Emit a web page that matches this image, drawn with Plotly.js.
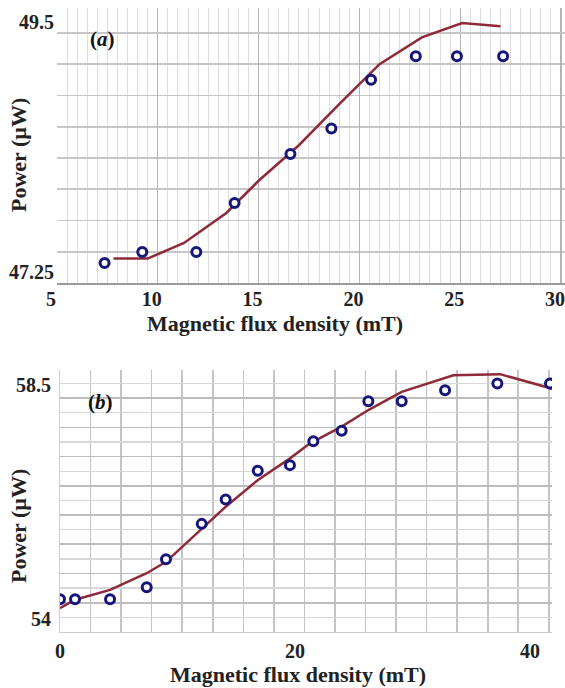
<!DOCTYPE html>
<html>
<head>
<meta charset="utf-8">
<script src="https://cdn.plot.ly/plotly-3.0.1.min.js"></script>
<style>
  html, body { margin: 0; padding: 0; background: #fff; overflow: hidden; }
  #chart { width: 565px; height: 688px; }
</style>
</head>
<body>
<div id="chart"></div>
<script>
// ---------- Panel (a) ----------
const fluxA = [7.36, 9.23, 11.91, 13.81, 16.58, 18.61, 20.58, 22.80, 24.84, 27.13];
const powerA = [47.43, 47.53, 47.53, 47.97, 48.41, 48.64, 49.08, 49.29, 49.29, 49.29];
const fitFluxA = [7.8, 9.5, 11.3, 13.4, 15.0, 17.0, 19.0, 21.0, 23.1, 25.1, 27.0];
const fitPowerA = [47.47, 47.47, 47.61, 47.88, 48.17, 48.49, 48.86, 49.22, 49.46, 49.59, 49.56];
const xTicksA = [5, 10, 15, 20, 25, 30];
const yTicksA = [47.25, 49.5];
const yTickTextA = ['47.25', '49.5'];

// ---------- Panel (b) ----------
const fluxB = [0, 1.28, 4.26, 7.38, 9.02, 12.06, 14.10, 16.83, 19.57, 21.56, 23.97, 26.24, 29.08, 32.77, 37.22, 41.70];
const powerB = [54.63, 54.63, 54.63, 54.86, 55.40, 56.08, 56.55, 57.10, 57.21, 57.67, 57.87, 58.44, 58.44, 58.65, 58.78, 58.78];
const fitFluxB = [0, 1.28, 4.26, 7.38, 9.02, 12.06, 14.10, 16.82, 19.57, 21.28, 23.97, 26.24, 29.08, 33.47, 37.45, 41.9];
const fitPowerB = [54.46, 54.62, 54.81, 55.13, 55.35, 55.99, 56.41, 56.92, 57.34, 57.63, 57.95, 58.27, 58.62, 58.94, 58.96, 58.68];
const xTicksB = [0, 20, 40];
const yTicksB = [54, 54.5625, 55.125, 55.6875, 56.25, 56.8125, 57.375, 57.9375, 58.5];
const yTickTextB = ['54', '', '', '', '', '', '', '', '58.5'];

const xTitle = 'Magnetic flux density (mT)';
const yTitle = 'Power (\u00b5W)';

const lineColor = '#8e2a3a';
const markerColor = '#16167a';
const serif = 'Liberation Serif, Times New Roman, serif';
const tickFont = {family: serif, size: 20, color: '#222', weight: 'bold'};
const titleFont = {family: serif, size: 22, color: '#222', weight: 'bold'};

const W = 565, H = 688;
const px = v => v / W;
const py = v => 1 - v / H;

const markerStyle = {symbol: 'circle', size: 9, color: '#ffffff', line: {color: markerColor, width: 3}};

const traces = [
  {x: fitFluxA, y: fitPowerA, xaxis: 'x', yaxis: 'y', mode: 'lines', line: {color: lineColor, width: 2.5}, hoverinfo: 'skip'},
  {x: fluxA, y: powerA, xaxis: 'x', yaxis: 'y', mode: 'markers', marker: markerStyle},
  {x: fitFluxB, y: fitPowerB, xaxis: 'x2', yaxis: 'y2', mode: 'lines', line: {color: lineColor, width: 2.5}, hoverinfo: 'skip'},
  {x: fluxB, y: powerB, xaxis: 'x2', yaxis: 'y2', mode: 'markers', marker: markerStyle}
];

const ann = (text, x, y, font, extra) => Object.assign({
  text: text, xref: 'paper', yref: 'paper', x: px(x), y: py(y),
  xanchor: 'center', yanchor: 'middle', showarrow: false, font: font
}, extra || {});

const layout = {
  width: W, height: H,
  margin: {l: 0, r: 0, t: 0, b: 0},
  paper_bgcolor: '#fff', plot_bgcolor: '#fff',
  showlegend: false,
  xaxis: {
    domain: [px(57), 1], anchor: 'y',
    range: [5, 30.2],
    tickmode: 'array', tickvals: xTicksA,
    ticks: '', tickfont: tickFont, ticklabelstandoff: -3, ticklabelshift: -6,
    ticklabeloverflow: 'allow',
    showgrid: true, gridcolor: '#b5b5b5', gridwidth: 1.3,
    minor: {dtick: 0.5, tick0: 5, showgrid: true, gridcolor: '#dedede', gridwidth: 1},
    showline: true, linecolor: '#9a9a9a', linewidth: 1.5,
    zeroline: false, fixedrange: true
  },
  yaxis: {
    domain: [py(283), py(8)], anchor: 'x',
    range: [47.25, 49.725],
    tickmode: 'array', tickvals: yTicksA, ticktext: yTickTextA,
    ticks: '', tickfont: tickFont, ticklabelstandoff: 2, ticklabelshift: -11,
    showgrid: true, gridcolor: '#c6c6c6', gridwidth: 1.6,
    minor: {dtick: 0.28125, tick0: 47.25, showgrid: true, gridcolor: '#c6c6c6', gridwidth: 1.6},
    showline: false, zeroline: false, fixedrange: true
  },
  xaxis2: {
    domain: [px(60), px(552)], anchor: 'y2',
    range: [0, 41.87],
    tickmode: 'array', tickvals: xTicksB,
    ticks: '', tickfont: tickFont, ticklabelstandoff: 1,
    showgrid: false,
    minor: {dtick: 2.6, tick0: 0, showgrid: true, gridcolor: '#c4c4c4', gridwidth: 1.6},
    showline: true, linecolor: '#cccccc', linewidth: 1,
    zeroline: false, fixedrange: true
  },
  yaxis2: {
    domain: [py(632), py(370)], anchor: 'x2',
    range: [54, 59.04],
    tickmode: 'array', tickvals: yTicksB, ticktext: yTickTextB,
    ticks: '', tickfont: tickFont, ticklabelstandoff: 4, ticklabelshift: -13,
    showgrid: true, gridcolor: '#bdbdbd', gridwidth: 1.6,
    minor: {dtick: 0.28125, tick0: 54, showgrid: true, gridcolor: '#d8d8d8', gridwidth: 1.3},
    showline: true, linecolor: '#cccccc', linewidth: 1,
    zeroline: false, fixedrange: true
  },
  shapes: [
    {type: 'rect', xref: 'paper', yref: 'paper', x0: px(59), x1: px(137), y0: py(57), y1: py(10),
     fillcolor: '#ffffff', line: {width: 0}, layer: 'between'},
    {type: 'rect', xref: 'paper', yref: 'paper', x0: px(61), x1: px(131), y0: py(423), y1: py(371),
     fillcolor: '#ffffff', line: {width: 0}, layer: 'between'}
  ],
  annotations: [
    ann('(<i>a</i>)', 102, 39, {family: serif, size: 21, color: '#111', weight: 'bold'}),
    ann('(<i>b</i>)', 100, 402, {family: serif, size: 21, color: '#111', weight: 'bold'}),
    ann(xTitle, 275, 323, titleFont),
    ann(yTitle, 18, 155, titleFont, {textangle: -90}),
    ann(xTitle, 298, 674, titleFont),
    ann(yTitle, 18, 526, titleFont, {textangle: -90})
  ]
};

Plotly.newPlot('chart', traces, layout, {displayModeBar: false, staticPlot: true});
</script>
</body>
</html>
